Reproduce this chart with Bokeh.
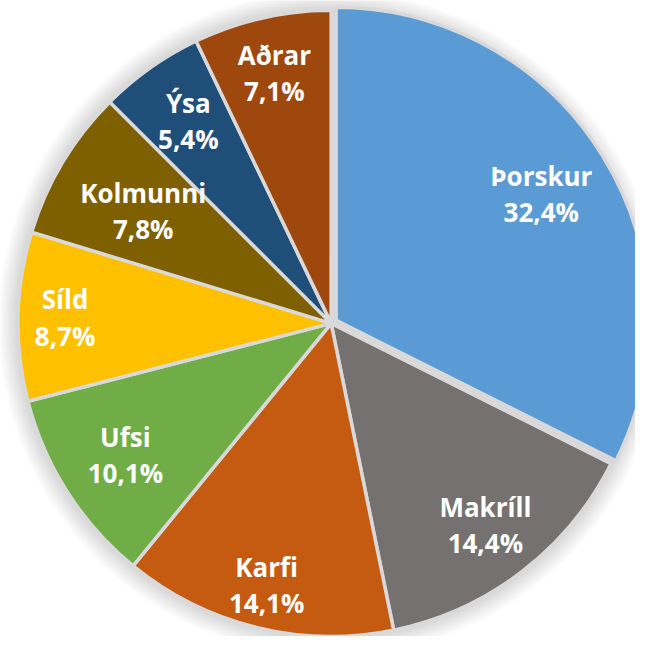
import numpy as np
from bokeh.plotting import figure
from bokeh.models import ColumnDataSource, Range1d
from bokeh.core.properties import value
from bokeh.embed import file_html
from bokeh.resources import INLINE

# ---- data ----
species = ["Þorskur", "Makríll", "Karfi", "Ufsi", "Síld", "Kolmunni", "Ýsa", "Aðrar"]
shares = [32.4, 14.4, 14.1, 10.1, 8.7, 7.8, 5.4, 7.1]
colors = ["#5B9BD5", "#767171", "#C55A11", "#70AD47", "#FFC000", "#7F6000", "#1F4E79", "#9E480E"]

# ---- layout / style ----
W_REF, H_REF = 651, 652
CX, CY, R = 339, 652 - 331, 321
EXPLODE = {"Þorskur": 6}
LABEL_FRAC = {"Þorskur": 0.77, "Makríll": 0.81, "Karfi": 0.86, "Ufsi": 0.78,
              "Síld": 0.85, "Kolmunni": 0.70, "Ýsa": 0.79, "Aðrar": 0.82}
FONT = value("Open Sans")
FS = "26px"
HALF_GAP = 18.5

frac = np.array(shares) / np.sum(shares)
cum = np.concatenate([[0.0], np.cumsum(frac)])
start = np.pi / 2 - cum[:-1] * 2 * np.pi
end = np.pi / 2 - cum[1:] * 2 * np.pi
mid = (start + end) / 2
exp = np.array([EXPLODE.get(s, 0) for s in species], dtype=float)
xs = CX + exp * np.cos(mid)
ys = CY + exp * np.sin(mid)

lf = np.array([LABEL_FRAC[s] for s in species])
lx = xs + lf * R * np.cos(mid)
ly = ys + lf * R * np.sin(mid)
pct = [f"{v:.1f}".replace(".", ",") + "%" for v in shares]

src = ColumnDataSource(dict(x=xs, y=ys, start=start, end=end, color=colors,
                            name=species, pct=pct, lx=lx,
                            ly_name=ly + HALF_GAP, ly_pct=ly - HALF_GAP))

p = figure(width=635, height=636, output_backend="svg", toolbar_location=None,
           x_range=Range1d(0, W_REF), y_range=Range1d(0, H_REF),
           x_axis_location=None, y_axis_location=None, min_border=0)
p.grid.visible = False
p.outline_line_color = None
p.background_fill_color = "white"
p.border_fill_color = "white"

# soft shadow / glow around the pie
for k in range(1, 11):
    p.circle(x=[CX], y=[CY], radius=R + 2 * k, fill_color="black", fill_alpha=0.014,
             line_color=None)

p.wedge(x="x", y="y", radius=R, start_angle="start", end_angle="end", direction="clock",
        fill_color="color", line_color="#d9d9d9", line_width=3.5, source=src)

p.text(x="lx", y="ly_name", text="name", source=src, text_color="white",
       text_font=FONT, text_font_style="bold", text_font_size=FS,
       text_align="center", text_baseline="middle")
p.text(x="lx", y="ly_pct", text="pct", source=src, text_color="white",
       text_font=FONT, text_font_style="bold", text_font_size=FS,
       text_align="center", text_baseline="middle")

open("out.html", "w").write(file_html(p, INLINE))
